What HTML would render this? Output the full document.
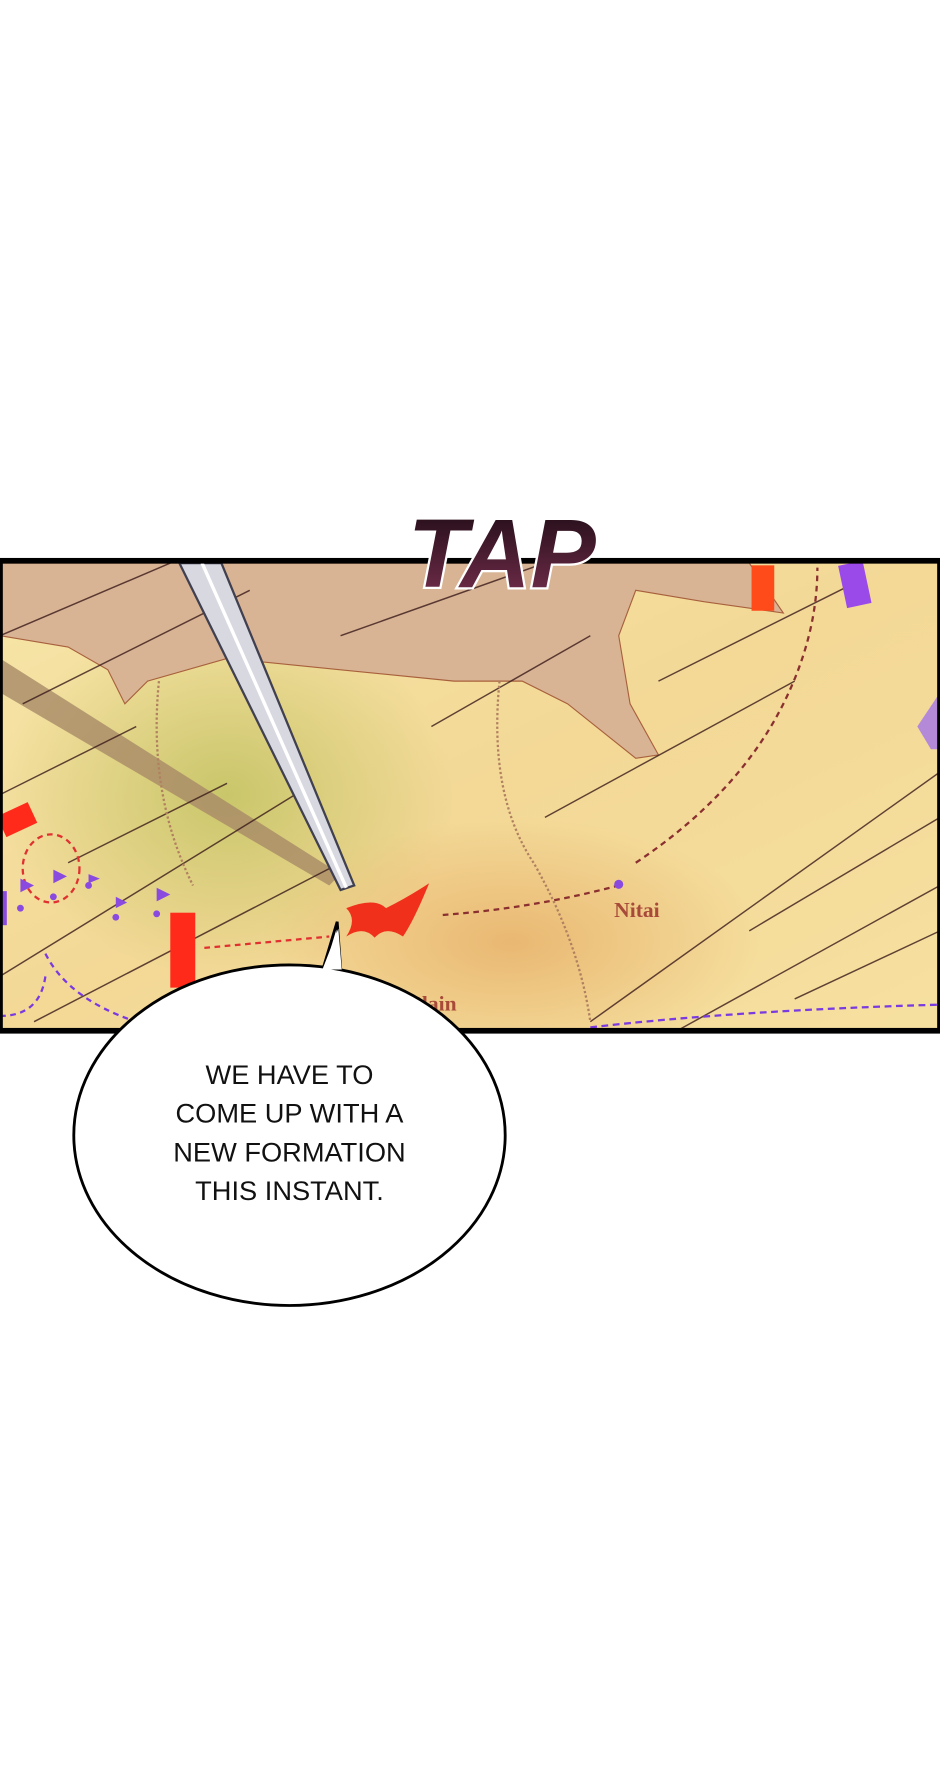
<!DOCTYPE html>
<html><head><meta charset="utf-8"><style>
html,body{margin:0;padding:0;background:#fff;width:940px;height:1780px;overflow:hidden}
svg{display:block}
</style></head><body>
<svg width="940" height="1780" viewBox="0 0 828 1568" preserveAspectRatio="none" xmlns="http://www.w3.org/2000/svg">
<defs>
<linearGradient id="bg" x1="0" y1="0" x2="1" y2="1">
<stop offset="0" stop-color="#f6e6a8"/><stop offset="0.5" stop-color="#f3d896"/><stop offset="1" stop-color="#f6e0a0"/>
</linearGradient>
<radialGradient id="gr" cx="0.5" cy="0.5" r="0.5">
<stop offset="0" stop-color="#c9c66a"/><stop offset="1" stop-color="#c9c66a" stop-opacity="0"/>
</radialGradient>
<radialGradient id="or" cx="0.5" cy="0.5" r="0.5">
<stop offset="0" stop-color="#e9b872"/><stop offset="1" stop-color="#e9b872" stop-opacity="0"/>
</radialGradient>
<linearGradient id="tap" x1="0" y1="0" x2="0" y2="1">
<stop offset="0" stop-color="#1a0a12"/><stop offset="1" stop-color="#7a3050"/>
</linearGradient>
<clipPath id="pc"><rect x="0" y="496" width="828" height="410"/></clipPath>
</defs>
<rect width="828" height="1568" fill="#fff"/>
<g clip-path="url(#pc)">
<rect x="0" y="496" width="828" height="410" fill="url(#bg)"/>
<ellipse cx="200" cy="700" rx="200" ry="160" fill="url(#gr)"/>
<ellipse cx="450" cy="830" rx="220" ry="110" fill="url(#or)"/>
<path d="M0 496 L660 496 L690 540 L620 530 L560 520 L545 560 L555 620 L580 665 L560 668 L500 620 L460 600 L400 600 L300 590 L200 580 L130 600 L110 620 L95 590 L60 570 L0 560 Z" fill="#d8b494" stroke="#a8603c" stroke-width="1"/>
<path d="M0 580 L300 770 L290 780 L0 610 Z" fill="#a88a66" opacity="0.8"/>
<path d="M828 610 L808 640 L820 660 L828 660 Z" fill="#b489d8"/>
<g stroke="#3a1a1a" stroke-width="1.3" opacity="0.8">
<line x1="0" y1="560" x2="150" y2="496"/><line x1="20" y1="620" x2="220" y2="520"/>
<line x1="0" y1="700" x2="120" y2="640"/><line x1="0" y1="860" x2="260" y2="700"/>
<line x1="30" y1="900" x2="300" y2="760"/><line x1="300" y1="560" x2="480" y2="496"/>
<line x1="480" y1="720" x2="700" y2="600"/><line x1="520" y1="900" x2="828" y2="680"/>
<line x1="600" y1="906" x2="828" y2="780"/><line x1="660" y1="820" x2="828" y2="720"/>
<line x1="580" y1="600" x2="760" y2="510"/><line x1="700" y1="880" x2="828" y2="820"/>
<line x1="380" y1="640" x2="520" y2="560"/><line x1="60" y1="760" x2="200" y2="690"/>
</g>
<path d="M560 760 Q650 700 690 620 Q720 560 720 500" fill="none" stroke="#8a3030" stroke-width="2" stroke-dasharray="5,4"/>
<path d="M390 806 Q470 800 545 780" fill="none" stroke="#8a3030" stroke-width="2" stroke-dasharray="5,4"/>
<path d="M180 835 L290 825" fill="none" stroke="#e03030" stroke-width="2" stroke-dasharray="5,4"/>
<ellipse cx="45" cy="765" rx="25" ry="30" fill="none" stroke="#e03030" stroke-width="2" stroke-dasharray="5,4"/>
<path d="M40 840 Q60 880 120 900 M0 895 Q35 895 40 860" fill="none" stroke="#7a3ae0" stroke-width="2" stroke-dasharray="5,4"/>
<path d="M520 905 Q650 890 828 885" fill="none" stroke="#7a3ae0" stroke-width="2" stroke-dasharray="6,4"/>
<path d="M440 600 Q430 700 470 760 Q510 830 520 900" fill="none" stroke="#b08060" stroke-width="2" stroke-dasharray="2,2"/>
<path d="M140 600 Q130 700 170 780" fill="none" stroke="#b08060" stroke-width="2" stroke-dasharray="2,2"/>
<rect x="662" y="498" width="20" height="40" fill="#ff4a1a"/>
<rect x="742" y="496" width="22" height="38" fill="#9a4ae8" transform="rotate(-12 752 515)"/>
<rect x="0" y="712" width="30" height="20" fill="#ff2a1a" transform="rotate(-25 15 722)"/>
<rect x="150" y="804" width="22" height="66" fill="#ff2a1a"/>
<g fill="#8a4ae0">
<circle cx="18" cy="800" r="3"/><path d="M18 800 V774 L30 780 L18 786Z"/>
<circle cx="47" cy="790" r="3"/><path d="M47 790 V766 L59 772 L47 778Z"/>
<circle cx="78" cy="780" r="3"/><path d="M78 780 V770 L88 774 L78 778Z"/>
<circle cx="102" cy="808" r="3"/><path d="M102 808 V790 L112 795 L102 800Z"/>
<circle cx="138" cy="805" r="3"/><path d="M138 805 V782 L150 788 L138 794Z"/>
<circle cx="545" cy="779" r="4"/>
<rect x="0" y="785" width="6" height="30"/>
</g>
<path d="M305 800 Q330 790 340 800 Q360 790 378 778 Q365 810 355 825 Q340 815 330 826 Q320 815 305 825 Q315 810 305 800Z" fill="#f0301a"/>
<text x="541" y="808" font-family="Liberation Serif, serif" font-size="19" fill="#a84a3a" font-weight="bold">Nitai</text>
<text x="360" y="890" font-family="Liberation Serif, serif" font-size="19" fill="#a84a3a" font-weight="bold">Plain</text>
<polygon points="158,496 195,496 312,780 300,784" fill="#d8d8e0" stroke="#404050" stroke-width="2"/>
<line x1="178" y1="496" x2="305" y2="782" stroke="#fff" stroke-width="3"/>
</g>
<rect x="0" y="494" width="828" height="414" fill="none" stroke="#000" stroke-width="5"/>
<text x="442" y="517" text-anchor="middle" font-family="Liberation Sans, sans-serif" font-size="86" font-weight="bold" font-style="italic" fill="url(#tap)" stroke="#fff" stroke-width="4" paint-order="stroke">TAP</text>
<path d="M285 852 L297 812 L300 852Z" fill="#fff" stroke="#000" stroke-width="2.5"/>
<ellipse cx="255" cy="1000" rx="190" ry="150" fill="#fff" stroke="#000" stroke-width="2.5"/>
<path d="M284 854 L298 818 L301 854Z" fill="#fff"/>
<g font-family="Liberation Sans, sans-serif" font-size="24" text-anchor="middle" fill="#111">
<text x="255" y="955">WE HAVE TO</text>
<text x="255" y="989">COME UP WITH A</text>
<text x="255" y="1023">NEW FORMATION</text>
<text x="255" y="1057">THIS INSTANT.</text>
</g>
</svg>
</body></html>
